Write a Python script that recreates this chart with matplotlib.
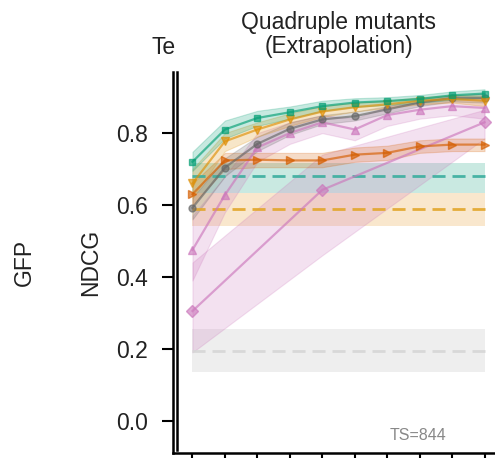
import numpy as np
import matplotlib
matplotlib.use("Agg")
from matplotlib import pyplot as plt

plt.rcParams['font.family'] = ['Liberation Sans', 'DejaVu Sans']

# training-set steps (10 ticks)
steps = np.arange(10)

# series: mean NDCG and band (low, high)
teal_y = [0.72, 0.81, 0.842, 0.858, 0.875, 0.885, 0.889, 0.895, 0.905, 0.91]
teal_lo = [0.695, 0.785, 0.82, 0.84, 0.862, 0.873, 0.878, 0.884, 0.893, 0.898]
teal_hi = [0.748, 0.835, 0.862, 0.874, 0.89, 0.897, 0.90, 0.906, 0.916, 0.922]

orange_y = [0.66, 0.777, 0.81, 0.838, 0.86, 0.872, 0.88, 0.89, 0.895, 0.89]
orange_lo = [0.62, 0.75, 0.79, 0.82, 0.845, 0.86, 0.87, 0.88, 0.885, 0.875]
orange_hi = [0.70, 0.80, 0.83, 0.855, 0.875, 0.885, 0.89, 0.90, 0.905, 0.905]

gray_y = [0.592, 0.704, 0.77, 0.812, 0.838, 0.847, 0.866, 0.885, 0.898, 0.898]
gray_lo = [0.56, 0.68, 0.75, 0.795, 0.825, 0.835, 0.855, 0.875, 0.888, 0.885]
gray_hi = [0.62, 0.73, 0.79, 0.83, 0.85, 0.86, 0.875, 0.895, 0.905, 0.91]

pinktri_y = [0.475, 0.628, 0.76, 0.80, 0.83, 0.81, 0.85, 0.865, 0.875, 0.87]
pinktri_lo = [0.39, 0.58, 0.72, 0.77, 0.80, 0.78, 0.82, 0.84, 0.85, 0.84]
pinktri_hi = [0.57, 0.68, 0.80, 0.83, 0.85, 0.84, 0.875, 0.885, 0.895, 0.895]

red_y = [0.63, 0.724, 0.726, 0.724, 0.724, 0.74, 0.745, 0.763, 0.768, 0.768]
red_lo = [0.60, 0.70, 0.705, 0.705, 0.705, 0.72, 0.725, 0.745, 0.75, 0.75]
red_hi = [0.66, 0.745, 0.745, 0.745, 0.745, 0.76, 0.765, 0.78, 0.785, 0.785]

diamond_x = [0, 4, 9]
diamond_y = [0.305, 0.642, 0.83]
diamond_lo = [0.19, 0.46, 0.785]
diamond_hi = [0.44, 0.74, 0.865]

# baselines: (mean, low, high)
base_teal = (0.681, 0.634, 0.718)
base_orange = (0.589, 0.542, 0.634)
base_gray = (0.194, 0.135, 0.255)

fig = plt.figure(figsize=(4.95, 4.58), dpi=100)
ax = fig.add_axes([173 / 495, 5 / 458, 331 / 495, 381 / 458])

for (m, lo, hi), fc, lc, a in [(base_gray, '#d0d0d0', '#d6d6d6', 0.35),
                               (base_orange, '#e8a33a', '#e2a62a', 0.25),
                               (base_teal, '#2aa88a', '#3aae9e', 0.25)]:
    ax.fill_between([steps[0], steps[-1]], lo, hi, color=fc, alpha=a, lw=0)
    ax.plot([steps[0], steps[-1]], [m, m], ls=(0, (4.7, 2.5)), color=lc,
            lw=2.0, alpha=0.9)

series = [
    (diamond_x, diamond_y, diamond_lo, diamond_hi, '#cc78bc', 'D', 6),
    (steps, pinktri_y, pinktri_lo, pinktri_hi, '#cc78bc', '^', 5.5),
    (steps, red_y, red_lo, red_hi, '#d55e00', '>', 5.5),
    (steps, gray_y, gray_lo, gray_hi, '#666666', 'o', 5),
    (steps, orange_y, orange_lo, orange_hi, '#de8f05', 'v', 5.5),
    (steps, teal_y, teal_lo, teal_hi, '#029e73', 's', 5),
]
for x, y, lo, hi, c, mk, ms in series:
    ax.fill_between(x, lo, hi, color=c, alpha=0.22, lw=0.8)
    ax.plot(x, y, color=c, marker=mk, ms=ms, lw=1.6, alpha=0.65)

ax.set_xlim(-0.6, 9.6)
ax.set_ylim(-0.09, 0.97)
ax.set_xticks(steps)
ax.set_xticklabels([''] * len(steps))
ax.set_yticks([0.0, 0.2, 0.4, 0.6, 0.8])
ax.set_yticklabels(['0.0', '0.2', '0.4', '0.6', '0.8'])
ax.tick_params(axis='both', labelsize=16.5, width=1.5, length=8, pad=10,
               labelcolor='#222222')
for s in ['top', 'right']:
    ax.spines[s].set_visible(False)
for s in ['left', 'bottom']:
    ax.spines[s].set_linewidth(1.8)

# second (inner) vertical line next to the left spine
ax.plot([0.012, 0.012], [0.008, 1.0], transform=ax.transAxes, color='black',
        lw=1.8, clip_on=False)

ax.set_ylabel('NDCG', fontsize=16.5, labelpad=10, color='#222222')
ax.set_title('Quadruple mutants\n(Extrapolation)', fontsize=16.5, pad=14,
             linespacing=1.05, color='#222222')
ax.text(0.74, 0.047, 'TS=844', transform=ax.transAxes, fontsize=11.5,
        color='#888888', ha='center', va='center')

fig.text(24 / 495, 1 - 262 / 458, 'GFP', rotation=90, fontsize=16.5,
         ha='center', va='center', color='#222222')
fig.text(151 / 495, 1 - 47 / 458, 'Te', fontsize=16.5, ha='left',
         va='center', color='#222222')

fig.savefig('out.png', dpi=100)
